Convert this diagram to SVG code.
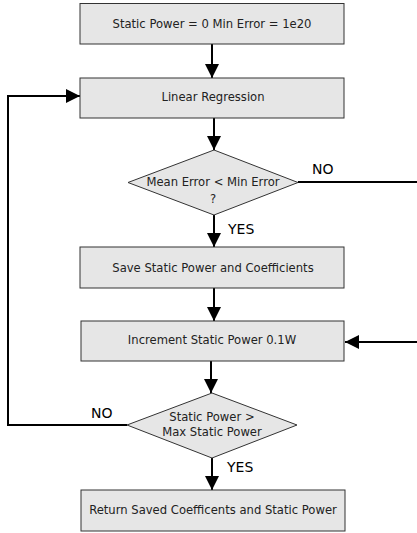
<svg xmlns="http://www.w3.org/2000/svg" width="417" height="533" viewBox="0 0 417 533">
<style>
.box{fill:#e6e6e6;stroke:#333;stroke-width:1}
.t{font-family:"DejaVu Sans",sans-serif;font-size:11.6px;fill:#222;text-anchor:middle}
.l{font-family:"DejaVu Sans",sans-serif;font-size:14px;fill:#000}
.c{fill:none;stroke:#000;stroke-width:2}
</style>
<defs>
<marker id="ah" viewBox="0 0 14 14" refX="14" refY="7" markerWidth="14" markerHeight="14" markerUnits="userSpaceOnUse" orient="auto">
<path d="M0,0 L14,7 L0,14 Z" fill="#000"/>
</marker>
</defs>
<g id="connectors">
<line class="c" x1="212" y1="44" x2="212" y2="78" marker-end="url(#ah)"/>
<line class="c" x1="214" y1="118" x2="214" y2="150" marker-end="url(#ah)"/>
<line class="c" x1="214" y1="215" x2="214" y2="247" marker-end="url(#ah)"/>
<line class="c" x1="214" y1="288" x2="214" y2="321" marker-end="url(#ah)"/>
<line class="c" x1="211" y1="361" x2="211" y2="393" marker-end="url(#ah)"/>
<line class="c" x1="212" y1="458" x2="212" y2="490" marker-end="url(#ah)"/>
<polyline class="c" points="298,182 417,182"/>
<line class="c" x1="417" y1="342" x2="345" y2="342" marker-end="url(#ah)"/>
<polyline class="c" points="127,425 8,425 8,96 80,96" marker-end="url(#ah)"/>
<text class="l" x="312" y="174">NO</text>
<text class="l" x="228" y="234">YES</text>
<text class="l" x="91" y="418">NO</text>
<text class="l" x="227" y="472">YES</text>
</g>
<g id="n1">
<rect class="box" x="80" y="3.5" width="264" height="40.5"/>
<text class="t" x="212" y="28">Static Power = 0 Min Error = 1e20</text>
</g>
<g id="n2">
<rect class="box" x="80" y="78" width="264" height="40"/>
<text class="t" x="213" y="101">Linear Regression</text>
</g>
<g id="n3">
<polygon class="box" points="214,150 298,182.5 214,215 128,182.5"/>
<text class="t" x="213" y="186">Mean Error &lt; Min Error</text>
<text class="t" x="213" y="203">?</text>
</g>
<g id="n4">
<rect class="box" x="80" y="247" width="264" height="41"/>
<text class="t" x="213" y="272">Save Static Power and Coefficients</text>
</g>
<g id="n5">
<rect class="box" x="81" y="321" width="263" height="40"/>
<text class="t" x="212" y="344">Increment Static Power 0.1W</text>
</g>
<g id="n6">
<polygon class="box" points="212,393 297,425 212,458 127,425"/>
<text class="t" x="212" y="421">Static Power &gt;</text>
<text class="t" x="212" y="436">Max Static Power</text>
</g>
<g id="n7">
<rect class="box" x="81" y="490" width="264" height="41"/>
<text class="t" x="213" y="514">Return Saved Coefficents and Static Power</text>
</g>
</svg>
